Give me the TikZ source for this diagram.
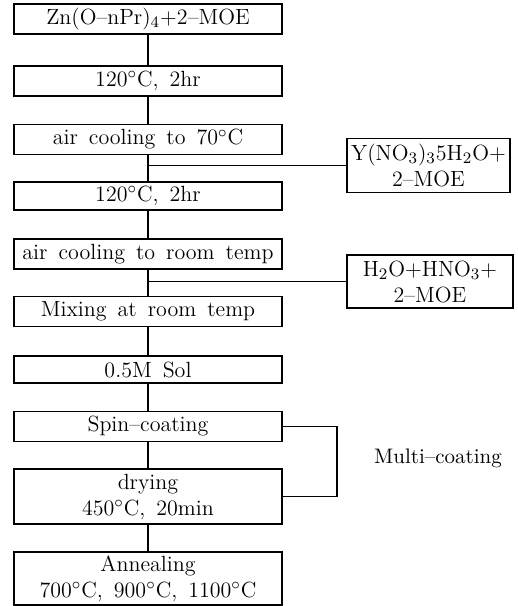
\documentclass[tikz,border=0pt]{standalone}
\newcommand\widewords{\spaceskip=5.5pt\relax}
\begin{document}
\begin{tikzpicture}[x=0.5pt,y=-0.5pt,line width=0.6pt,font=\fontsize{11}{13}\selectfont\widewords,
  stepbox/.style={draw,minimum width=134pt,minimum height=15pt,inner sep=0pt,align=center},
  addbox/.style={draw,minimum width=82pt,minimum height=27pt,inner sep=0pt,align=center}]
\useasboundingbox (0,0) rectangle (518,606);
\node[stepbox] (zn) at (148,19) {Zn(O--nPr)$_4$+2--MOE};
\node[stepbox] (heatA) at (148,81) {120$^\circ$C, 2hr};
\node[stepbox] (coolA) at (148,139.5) {air cooling to 70$^\circ$C};
\node[stepbox,minimum height=14pt] (heatB) at (148,196) {120$^\circ$C, 2hr};
\node[stepbox] (coolB) at (148,254) {air cooling to room temp};
\node[stepbox] (mix) at (148,311.5) {Mixing at room temp};
\node[stepbox,minimum height=13.5pt] (sol) at (148,369.5) {0.5M Sol};
\node[stepbox] (spin) at (148,426.5) {Spin--coating};
\node[stepbox,minimum height=27.5pt] (dry) at (148,496.5) {drying\\450$^\circ$C, 20min};
\node[stepbox,minimum height=26.5pt] (anneal) at (148,578.5) {Annealing\\700$^\circ$C, 900$^\circ$C, 1100$^\circ$C};
\node[addbox,minimum width=81.5pt] (yttr) at (428.5,165.5) {Y(NO$_3$)$_3$5H$_2$O+\\2--MOE};
\node[addbox,minimum width=83pt,minimum height=26.5pt] (acid) at (430,281.5) {H$_2$O+HNO$_3$+\\2--MOE};
\node[font=\fontsize{10.5}{12}\selectfont] (multi) at (438,458) {Multi--coating};
\foreach \a/\b in {zn/heatA,heatA/coolA,coolA/heatB,heatB/coolB,coolB/mix,mix/sol,sol/spin,spin/dry,dry/anneal}
  \draw (\a.south) -- (\b.north);
\draw (coolA.south |- yttr.west) -- (yttr.west);
\draw (coolB.south |- acid.west) -- (acid.west);
\coordinate (loop) at (337,426.5);
\draw (spin.east) -- (loop) |- (dry.east);
\end{tikzpicture}
\end{document}
